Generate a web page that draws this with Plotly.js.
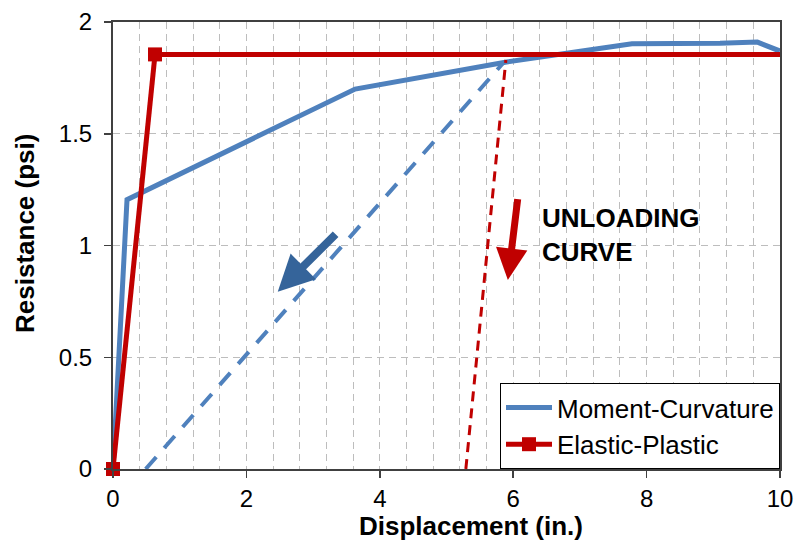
<!DOCTYPE html>
<html>
<head>
<meta charset="utf-8">
<script src="https://cdn.plot.ly/plotly-3.0.1.min.js"></script>
<style>
  html, body { margin: 0; padding: 0; background: #fff; }
  #chart { width: 796px; height: 540px; }
</style>
</head>
<body>
<div id="chart"></div>
<script>
// Resistance-displacement response: moment-curvature vs. elastic-plastic model
const mcDisp = [0, 0.21, 3.63, 5.88, 6.8, 7.78, 9.1, 9.66, 10];
const mcRes  = [0, 1.205, 1.70, 1.82, 1.86, 1.903, 1.905, 1.91, 1.87];

const epDisp = [0, 0.63, 10];
const epRes  = [0, 1.855, 1.855];

// Unloading branches
const mcUnloadDisp = [0.49, 5.86];
const mcUnloadRes  = [0, 1.82];
const epUnloadDisp = [5.29, 5.89];
const epUnloadRes  = [0, 1.83];

const xTicks = [0, 2, 4, 6, 8, 10];
const xTickText = ['0', '2', '4', '6', '8', '10'];
const yTicks = [0, 0.5, 1, 1.5, 2];
const yTickText = ['0', '0.5', '1', '1.5', '2'];

const BLUE = '#4F81BD';
const RED = '#C00000';
const FONT = 'Liberation Sans, Arial, sans-serif';

const traces = [
  {
    x: mcDisp, y: mcRes, mode: 'lines', name: 'Moment-Curvature',
    line: { color: BLUE, width: 5 }
  },
  {
    x: mcUnloadDisp, y: mcUnloadRes, mode: 'lines', showlegend: false,
    line: { color: BLUE, width: 4, dash: '16px,12px' }
  },
  {
    x: epUnloadDisp, y: epUnloadRes, mode: 'lines', showlegend: false,
    line: { color: RED, width: 3, dash: '10px,7px' }
  },
  {
    x: epDisp.slice(1), y: epRes.slice(1), mode: 'lines', showlegend: false,
    line: { color: RED, width: 5 }
  },
  {
    x: epDisp.slice(0, 2), y: epRes.slice(0, 2), mode: 'lines+markers', name: 'Elastic-Plastic',
    cliponaxis: false,
    line: { color: RED, width: 5 },
    marker: { symbol: 'square', size: 14, color: RED }
  }
];

const axisCommon = {
  showline: true, linecolor: '#404040', linewidth: 2, mirror: true,
  ticks: 'outside', ticklen: 7, tickcolor: '#404040', tickwidth: 1.5,
  zeroline: false, fixedrange: true,
  tickfont: { family: FONT, size: 24, color: '#000' },
  showgrid: true, gridcolor: '#BDBDBD', gridwidth: 1, griddash: '7px,5px'
};

const layout = {
  width: 796, height: 540,
  margin: { l: 113, r: 16, t: 22, b: 71 },
  paper_bgcolor: '#fff', plot_bgcolor: '#fff',
  showlegend: true,
  xaxis: Object.assign({}, axisCommon, {
    range: [0, 10], tickvals: xTicks, ticktext: xTickText,
    minor: { dtick: 0.4, showgrid: true, gridcolor: '#BDBDBD', gridwidth: 1, griddash: '7px,5px', ticks: '' }
  }),
  yaxis: Object.assign({}, axisCommon, {
    range: [0, 2], tickvals: yTicks, ticktext: yTickText, ticklabelstandoff: 7
  }),
  legend: {
    x: 1, xanchor: 'right', y: 0, yanchor: 'bottom',
    bgcolor: '#fff', bordercolor: '#000', borderwidth: 1,
    font: { family: FONT, size: 26, color: '#000' },
    itemwidth: 46, tracegroupgap: 0
  },
  annotations: [
    // axis titles (positions set below from pixel targets)
    {
      x: 0.5, y: 0, xref: 'paper', yref: 'paper', xanchor: 'center', yanchor: 'middle',
      text: '<b>Displacement (in.)</b>', showarrow: false,
      font: { family: FONT, size: 26, color: '#000' }
    },
    {
      x: 0, y: 0.5, xref: 'paper', yref: 'paper', xanchor: 'center', yanchor: 'middle',
      text: '<b>Resistance (psi)</b>', showarrow: false,
      textangle: -90, font: { family: FONT, size: 26, color: '#000' }
    },
    {
      x: 6.4, y: 1.048, xref: 'x', yref: 'y', xanchor: 'left', yanchor: 'middle', align: 'left',
      text: '<b>UNLOADING<br>CURVE</b>', showarrow: false,
      font: { family: FONT, size: 26, color: '#000' }
    },
    {
      x: 5.92, y: 0.846, ax: 6.07, ay: 1.214, xref: 'x', yref: 'y', axref: 'x', ayref: 'y',
      text: '', showarrow: true, arrowhead: 2, arrowsize: 0.9, arrowwidth: 7, arrowcolor: RED, standoff: 0
    },
    {
      x: 2.47, y: 0.793, ax: 3.36, ay: 1.057, xref: 'x', yref: 'y', axref: 'x', ayref: 'y',
      text: '', showarrow: true, arrowhead: 2, arrowsize: 0.9, arrowwidth: 8, arrowcolor: '#35649A', standoff: 0
    }
  ]
};

// Axis titles are placed in pixel terms relative to the plot area
const plotL = layout.margin.l;
const plotW = layout.width - layout.margin.l - layout.margin.r;
const plotH = layout.height - layout.margin.t - layout.margin.b;
const plotB = layout.height - layout.margin.b;
const xTitle = layout.annotations[0];
xTitle.x = (471 - plotL) / plotW;
xTitle.y = (plotB - 526) / plotH;
const yTitle = layout.annotations[1];
yTitle.x = (25 - plotL) / plotW;
yTitle.y = (plotB - 234) / plotH;

Plotly.newPlot('chart', traces, layout, { displayModeBar: false, staticPlot: true });
</script>
</body>
</html>
